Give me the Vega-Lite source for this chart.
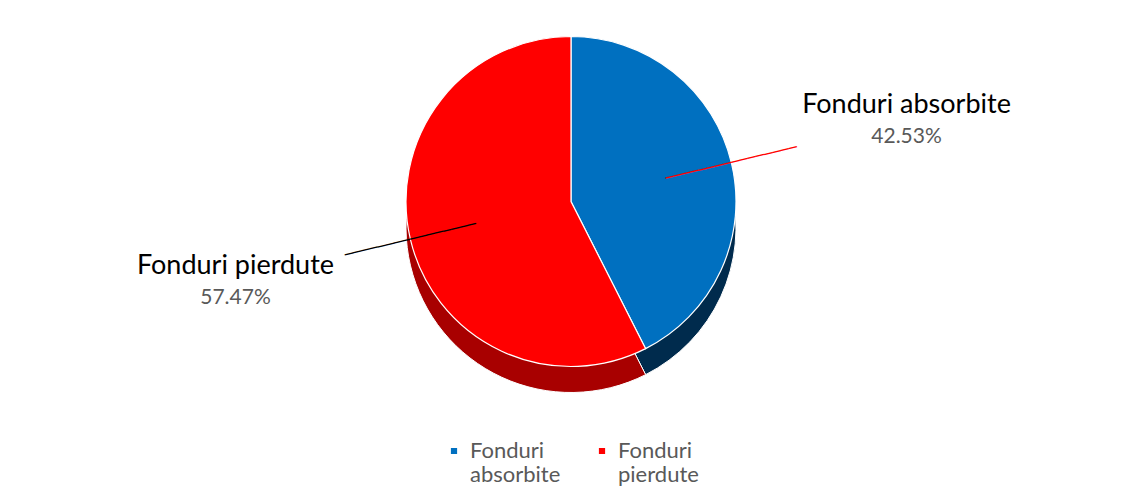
{
  "$schema": "https://vega.github.io/schema/vega-lite/v6.json",
  "width": 1142,
  "height": 491,
  "autosize": {"type": "fit", "contains": "padding"},
  "background": "white",
  "config": {
    "view": {"stroke": null},
    "font": "Lato",
    "legend": {"layout": {"bottom": {"anchor": "middle"}}}
  },
  "data": {
    "values": [
      {"category": "Fonduri absorbite", "share": 42.53, "pct": "42.53%"},
      {"category": "Fonduri pierdute", "share": 57.47, "pct": "57.47%"}
    ]
  },
  "encoding": {
    "theta": {"field": "share", "type": "quantitative", "stack": true}
  },
  "resolve": {"scale": {"fill": "independent"}},
  "layer": [
    {
      "mark": {"type": "arc", "outerRadius": 165, "yOffset": 12, "stroke": "white", "strokeWidth": 1},
      "encoding": {
        "fill": {
          "field": "pct", "type": "nominal", "legend": null,
          "scale": {"domain": ["42.53%", "57.47%"], "range": ["#002B4D", "#A80000"]}
        }
      }
    },
    {
      "mark": {"type": "arc", "outerRadius": 165, "yOffset": -14, "stroke": "white", "strokeWidth": 1.2},
      "encoding": {
        "color": {
          "field": "category", "type": "nominal",
          "scale": {"domain": ["Fonduri absorbite", "Fonduri pierdute"], "range": ["#0070C0", "#FF0000"]},
          "legend": {
            "orient": "bottom", "direction": "horizontal", "title": null,
            "symbolType": "square", "symbolSize": 60, "labelFontSize": 22,
            "labelColor": "#595959", "labelExpr": "split(datum.label, ' ')",
            "labelBaseline": "middle", "labelOffset": 5, "columnPadding": 30, "labelLimit": 200, "offset": 14
          }
        }
      }
    },
    {
      "mark": {"type": "text", "text": "────────────────", "font": "DejaVu Sans Mono", "fontSize": 14, "angle": 346.5, "radius": 165, "yOffset": -14, "align": "center", "baseline": "middle"},
      "encoding": {
        "fill": {
          "field": "pct", "type": "nominal", "legend": null,
          "scale": {"domain": ["42.53%", "57.47%"], "range": ["#FF0000", "#000000"]}
        }
      }
    },
    {
      "mark": {"type": "text", "radius": 345, "yOffset": -14, "dy": -16, "fontSize": 27, "color": "#000000"},
      "encoding": {"text": {"field": "category", "type": "nominal"}}
    },
    {
      "mark": {"type": "text", "radius": 345, "yOffset": -14, "dy": 16, "fontSize": 21, "color": "#595959"},
      "encoding": {"text": {"field": "pct", "type": "nominal"}}
    }
  ]
}
